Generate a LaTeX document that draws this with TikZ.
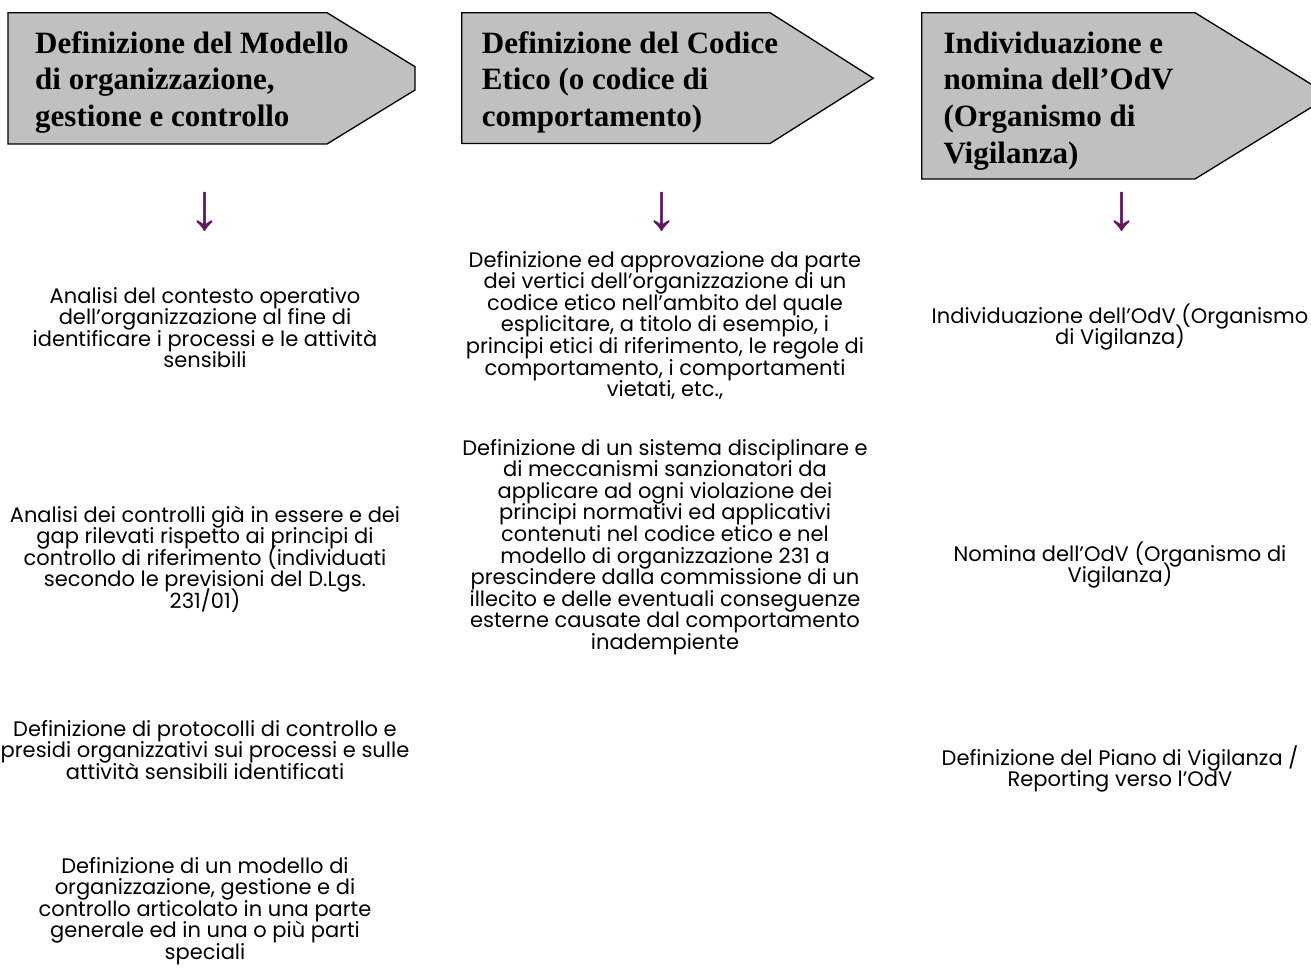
\documentclass[tikz,border=0pt]{standalone}
\usepackage{fontspec}
\setmainfont{Liberation Serif}
\newfontfamily\bodyfont{Poppins}
\newfontfamily\arrowfont{Liberation Serif}
\definecolor{shapegray}{RGB}{192,192,192}
\definecolor{arrowpurple}{RGB}{96,24,96}
\begin{document}
\lineskiplimit=-50pt
\begin{tikzpicture}[x=1pt,y=-1pt,
  banner/.style={fill=shapegray,draw=black,line width=1.3pt,line join=miter},
  headtxt/.style={anchor=base west,align=left,inner sep=0pt,font=\fontsize{31}{36.7}\selectfont\bfseries},
  bodytxt/.style={anchor=base,align=center,inner sep=0pt,font=\bodyfont\fontsize{21}{21.6}\selectfont},
  downarrow/.style={anchor=center,inner sep=0pt,text=arrowpurple,font=\arrowfont\fontsize{66}{66}\selectfont}]
\useasboundingbox (0,0) rectangle (1311,976);
\begin{scope}
\clip (0,0) rectangle (1311,976);
\draw[banner] (8,12.7) -- (327,12.7) -- (415,66.7) -- (415,90) -- (327,144) -- (8,144) -- cycle;
\draw[banner] (461.7,12.7) -- (770,12.7) -- (873.3,78.2) -- (770,143.5) -- (461.7,143.5) -- cycle;
\draw[banner] (921.7,12.7) -- (1195,12.7) -- (1330,95.8) -- (1195,179) -- (921.7,179) -- cycle;
\end{scope}
% headers (anchor = baseline of the last line)
\node[headtxt] (h1) at (35,126.7) {Definizione del Modello\\di organizzazione,\\gestione e controllo};
\node[headtxt] (h2) at (481.7,126.7) {Definizione del Codice\\Etico (o codice di\\comportamento)};
\node[headtxt] (h3) at (943.3,163.4) {Individuazione e\\nomina dell’OdV\\(Organismo di\\Vigilanza)};
% arrows
\node[downarrow] (a1) at (205,212) {↓};
\node[downarrow] (a2) at (662,212) {↓};
\node[downarrow] (a3) at (1122,212) {↓};
% column 1
\node[bodytxt] (c1a) at (205,367.8) {Analisi del contesto operativo\\dell’organizzazione al fine di\\identificare i processi e le attività\\sensibili};
\node[bodytxt] (c1b) at (205,608.4) {Analisi dei controlli già in essere e dei\\gap rilevati rispetto ai principi di\\controllo di riferimento (individuati\\secondo le previsioni del D.Lgs.\\231/01)};
\node[bodytxt] (c1c) at (205,779.2) {Definizione di protocolli di controllo e\\presidi organizzativi sui processi e sulle\\attività sensibili identificati};
\node[bodytxt] (c1d) at (205,959.4) {Definizione di un modello di\\organizzazione, gestione e di\\controllo articolato in una parte\\generale ed in una o più parti\\speciali};
% column 2
\node[bodytxt] (c2a) at (665,396.6) {Definizione ed approvazione da parte\\dei vertici dell’organizzazione di un\\codice etico nell’ambito del quale\\esplicitare, a titolo di esempio, i\\principi etici di riferimento, le regole di\\comportamento, i comportamenti\\vietati, etc.,};
\node[bodytxt] (c2b) at (665,649.4) {Definizione di un sistema disciplinare e\\di meccanismi sanzionatori da\\applicare ad ogni violazione dei\\principi normativi ed applicativi\\contenuti nel codice etico e nel\\modello di organizzazione 231 a\\prescindere dalla commissione di un\\illecito e delle eventuali conseguenze\\esterne causate dal comportamento\\inadempiente};
% column 3
\node[bodytxt] (c3a) at (1120,344.6) {Individuazione dell’OdV (Organismo\\di Vigilanza)};
\node[bodytxt] (c3b) at (1120,582.6) {Nomina dell’OdV (Organismo di\\Vigilanza)};
\node[bodytxt] (c3c) at (1120,786.6) {Definizione del Piano di Vigilanza /\\Reporting verso l’OdV};
\end{tikzpicture}
\end{document}
